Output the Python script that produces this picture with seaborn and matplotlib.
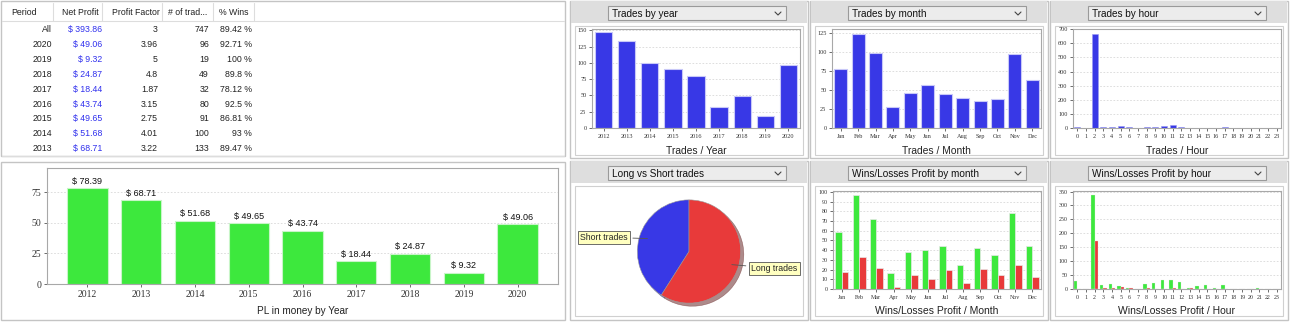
import matplotlib
matplotlib.use("Agg")
import matplotlib.pyplot as plt
import numpy as np
import pandas as pd
import seaborn as sns
from matplotlib.patches import Rectangle

# --- data ---
years = ["2012", "2013", "2014", "2015", "2016", "2017", "2018", "2019", "2020"]
pl_by_year = [78.39, 68.71, 51.68, 49.65, 43.74, 18.44, 24.87, 9.32, 49.06]
trades_by_year = [147, 133, 100, 91, 80, 32, 49, 19, 96]

months = ["Jan", "Feb", "Mar", "Apr", "May", "Jun", "Jul", "Aug", "Sep", "Oct", "Nov", "Dec"]
trades_by_month = [78, 123, 98, 28, 46, 57, 45, 39, 35, 38, 97, 63]
wins_by_month = [59, 97, 72, 16, 38, 40, 44, 25, 42, 35, 78, 44]
losses_by_month = [18, 33, 22, 2, 14, 10, 20, 6, 21, 14, 25, 12]

hours = [str(h) for h in range(24)]
trades_by_hour = [5, 0, 668, 5, 10, 11, 7, 0, 6, 7, 13, 18, 7, 3, 3, 3, 1, 5, 0, 0, 0, 1, 0, 0]
wins_by_hour = [28, 0, 337, 16, 18, 10, 5, 0, 18, 20, 33, 33, 26, 4, 12, 16, 4, 16, 0, 0, 0, 5, 0, 0]
losses_by_hour = [0, 0, 173, 4, 4, 6, 4, 0, 5, 0, 0, 4, 0, 4, 0, 0, 0, 0, 0, 0, 0, 0, 0, 0]

pie_labels = ["Short trades", "Long trades"]
pie_shares = [41, 59]

table_cols = ["Period", "Net Profit", "Profit Factor", "# of trad...", "% Wins"]
t_period = ["All", "2020", "2019", "2018", "2017", "2016", "2015", "2014", "2013"]
t_profit = ["$ 393.86", "$ 49.06", "$ 9.32", "$ 24.87", "$ 18.44", "$ 43.74", "$ 49.65", "$ 51.68", "$ 68.71"]
t_factor = ["3", "3.96", "5", "4.8", "1.87", "3.15", "2.75", "4.01", "3.22"]
t_trades = ["747", "96", "19", "49", "32", "80", "91", "100", "133"]
t_wins = ["89.42 %", "92.71 %", "100 %", "89.8 %", "78.12 %", "92.5 %", "86.81 %", "93 %", "89.47 %"]

GREEN = "#3de83d"
BLUE = "#3838e6"
RED = "#e83a3a"
BORDER = "#c4c4c4"

sns.set_theme(style="white")
plt.rcParams["font.family"] = ["Liberation Sans", "DejaVu Sans"]

W, H = 1290, 322
fig = plt.figure(figsize=(W / 100, H / 100), dpi=100)
fig.patch.set_facecolor("white")

# background canvas in pixel coords
bg = fig.add_axes([0, 0, 1, 1], zorder=-5)
bg.set_xlim(0, W)
bg.set_ylim(H, 0)
bg.axis("off")


def rect(x0, y0, x1, y1, fc="none", ec=BORDER, lw=1.0):
    bg.add_patch(Rectangle((x0, y0), x1 - x0, y1 - y0, facecolor=fc, edgecolor=ec, lw=lw))


def px_axes(x0, y0, x1, y1):
    return fig.add_axes([x0 / W, 1 - y1 / H, (x1 - x0) / W, (y1 - y0) / H])


def header(x0, x1, y0, title):
    rect(x0 + 1, y0, x1 - 1, y0 + 22, fc="#dedede", ec="none")
    rect(x0 + 38, y0 + 5, x1 - 22, y0 + 19, fc="#ececec", ec="#9a9a9a", lw=0.8)
    bg.text(x0 + 42, y0 + 12.5, title, fontsize=7.2, va="center", ha="left", color="#111111")
    cx = x1 - 30
    bg.plot([cx - 3, cx, cx + 3], [y0 + 11, y0 + 14, y0 + 11], color="#444444", lw=0.8)


# --- table panel ---
rect(1, 1, 565, 156, fc="white")
bg.plot([2, 564], [21, 21], color="#dddddd", lw=0.8)
for sx in [53, 102, 162, 213, 254]:
    bg.plot([sx, sx], [3, 21], color="#dddddd", lw=0.8)
head_x = [11, 62, 112, 168, 219]
for hx, name in zip(head_x, table_cols):
    bg.text(hx, 12.5, name, fontsize=6.3, va="center", ha="left", color="#222222")
row_y = [29, 44, 59, 74, 89, 104, 118, 133, 148]
for i, yy in enumerate(row_y):
    bg.text(52, yy, t_period[i], fontsize=6.3, va="center", ha="right", color="#222222")
    bg.text(102, yy, t_profit[i], fontsize=6.3, va="center", ha="right", color="#3030ee")
    bg.text(158, yy, t_factor[i], fontsize=6.3, va="center", ha="right", color="#222222")
    bg.text(209, yy, t_trades[i], fontsize=6.3, va="center", ha="right", color="#222222")
    bg.text(252, yy, t_wins[i], fontsize=6.3, va="center", ha="right", color="#222222")
bg.plot([2, 564], [156, 156], color="#dddddd", lw=0.8)

# --- panel frames ---
rect(1, 162, 565, 320, fc="white")
for x0 in [570, 810, 1050]:
    rect(x0, 1, x0 + 238, 158, fc="white")
    rect(x0, 161, x0 + 238, 320, fc="white")
header(570, 808, 1, "Trades by year")
header(810, 1048, 1, "Trades by month")
header(1050, 1288, 1, "Trades by hour")
header(570, 808, 161, "Long vs Short trades")
header(810, 1048, 161, "Wins/Losses Profit by month")
header(1050, 1288, 161, "Wins/Losses Profit by hour")
for x0 in [570, 810, 1050]:
    rect(x0 + 5, 26, x0 + 233, 155, fc="white", ec="#d0d0d0", lw=0.8)
    rect(x0 + 5, 186, x0 + 233, 316, fc="white", ec="#d0d0d0", lw=0.8)


def style_axes(ax, ticksize, ymax, step, xlabel, xlsize):
    ax.set_ylim(0, ymax)
    ax.set_yticks(np.arange(0, ymax + 0.1, step))
    ax.yaxis.grid(True, ls=(0, (2, 2)), color="#d8d8d8", lw=0.6)
    ax.set_axisbelow(True)
    for s in ax.spines.values():
        s.set_color("#a8a8a8")
        s.set_linewidth(0.8)
    ax.tick_params(axis="both", labelsize=ticksize, length=2, pad=2, colors="#333333",
                   left=True, bottom=True, width=0.5)
    for lab in ax.get_xticklabels() + ax.get_yticklabels():
        lab.set_family(["Liberation Serif", "DejaVu Serif"])
    ax.set_ylabel("")
    ax.set_xlabel(xlabel, fontsize=xlsize, color="#222222", labelpad=5)


# --- PL by year ---
ax = px_axes(47, 168, 558, 284)
df = pd.DataFrame({"year": years, "pl": pl_by_year})
sns.barplot(data=df, x="year", y="pl", color=GREEN, width=0.75, edgecolor="#c8f5c8",
            linewidth=0.8, saturation=1, ax=ax)
for p, v in zip(ax.patches, pl_by_year):
    ax.text(p.get_x() + p.get_width() / 2, v + 2, f"$ {v:.2f}", ha="center", va="bottom",
            fontsize=6.5, color="#111111")
style_axes(ax, 7, 95, 25, "PL in money by Year", 7.2)
ax.set_ylim(0, 95)
ax.set_xlim(-0.75, 8.75)

# --- trades by year ---
ax = px_axes(592, 29, 800, 128)
df = pd.DataFrame({"year": years, "n": trades_by_year})
sns.barplot(data=df, x="year", y="n", color=BLUE, width=0.75, edgecolor="#c8c8f8",
            linewidth=0.8, saturation=1, ax=ax)
style_axes(ax, 4.5, 150, 25, "Trades / Year", 7.4)
ax.set_ylim(0, 152)

# --- trades by month ---
ax = px_axes(832, 29, 1041, 128)
df = pd.DataFrame({"month": months, "n": trades_by_month})
sns.barplot(data=df, x="month", y="n", color=BLUE, width=0.75, edgecolor="#c8c8f8",
            linewidth=0.8, saturation=1, ax=ax)
style_axes(ax, 4.5, 125, 25, "Trades / Month", 7.4)
ax.set_ylim(0, 130)

# --- trades by hour ---
ax = px_axes(1073, 29, 1281, 128)
df = pd.DataFrame({"hour": hours, "n": trades_by_hour})
sns.barplot(data=df, x="hour", y="n", color=BLUE, width=0.7, edgecolor="#9a9af2",
            linewidth=0.4, saturation=1, ax=ax)
style_axes(ax, 4.5, 700, 100, "Trades / Hour", 7.4)
ax.set_ylim(0, 702)

# --- long vs short pie ---
ax = px_axes(576, 187, 802, 316)
wedges, _ = ax.pie(pie_shares, colors=[BLUE, RED], startangle=90, counterclock=True,
                   radius=0.8, shadow={"ox": 0.035, "oy": -0.035, "shade": 0.6},
                   wedgeprops={"edgecolor": "#9a9a9a", "linewidth": 0.4})
ax.set_xlim(-1.75, 1.75)
ax.set_ylim(-1.0, 1.0)
ax.set_aspect("auto")
box = dict(boxstyle="square,pad=0.25", fc="#ffffc0", ec="#555555", lw=0.6)
ax.annotate(pie_labels[0], xy=(-0.6, 0.2), xytext=(-1.32, 0.22), fontsize=6.3,
            ha="center", va="center", bbox=box,
            arrowprops=dict(arrowstyle="-", color="#555555", lw=0.6))
ax.annotate(pie_labels[1], xy=(0.62, -0.2), xytext=(1.32, -0.26), fontsize=6.3,
            ha="center", va="center", bbox=box,
            arrowprops=dict(arrowstyle="-", color="#555555", lw=0.6))

# --- wins/losses by month ---
ax = px_axes(833, 191, 1041, 289)
df = pd.DataFrame({"month": months * 2, "v": wins_by_month + losses_by_month,
                   "kind": ["Wins"] * 12 + ["Losses"] * 12})
sns.barplot(data=df, x="month", y="v", hue="kind", palette=[GREEN, RED], width=0.75,
            edgecolor="#e8e8e8", linewidth=0.5, saturation=1, legend=False, ax=ax)
style_axes(ax, 4.3, 100, 10, "Wins/Losses Profit / Month", 7.5)
ax.set_ylim(0, 101)

# --- wins/losses by hour ---
ax = px_axes(1073, 191, 1281, 289)
df = pd.DataFrame({"hour": hours * 2, "v": wins_by_hour + losses_by_hour,
                   "kind": ["Wins"] * 24 + ["Losses"] * 24})
sns.barplot(data=df, x="hour", y="v", hue="kind", palette=[GREEN, RED], width=0.8,
            edgecolor="#e8e8e8", linewidth=0.2, saturation=1, legend=False, ax=ax)
style_axes(ax, 4.3, 350, 50, "Wins/Losses Profit / Hour", 7.5)
ax.set_ylim(0, 352)

fig.savefig("out.png", dpi=100)
